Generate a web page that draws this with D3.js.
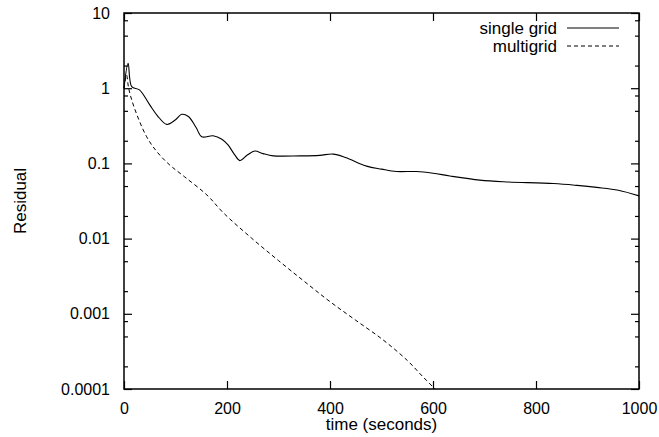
<!DOCTYPE html>
<html>
<head>
  <meta charset="UTF-8">
  <title>Residual vs time</title>
  <script src="https://d3js.org/d3.v7.min.js"></script>
  <style>
    body { margin: 0; background: #fff; }
    .chart text { font-family: "Liberation Sans", Arial, sans-serif; font-size: 17px; fill: #000; }
  </style>
</head>
<body>

<div class="chart"></div>

<script>

  // data: [time, residual]
  var singleGrid = [
    [0, 1.0], [8, 2.15], [15, 1.05], [30, 0.95], [50, 0.6], [65, 0.43],
    [83, 0.33], [100, 0.38], [112, 0.45], [125, 0.42], [140, 0.3], [151, 0.226],
    [173, 0.233], [190, 0.21], [202, 0.176], [215, 0.13], [225, 0.109], [240, 0.13],
    [254, 0.146], [270, 0.135], [290, 0.126], [342, 0.126], [380, 0.128], [406, 0.133],
    [430, 0.12], [471, 0.092], [500, 0.084], [529, 0.078], [568, 0.078], [600, 0.074],
    [633, 0.068], [691, 0.06], [737, 0.057], [834, 0.054], [880, 0.051], [918, 0.048],
    [960, 0.044], [1000, 0.037]
  ];
  var multiGrid = [
    [0, 1.0], [5, 1.5], [9, 1.0], [20, 0.55], [44, 0.226], [65, 0.14], [89, 0.095],
    [118, 0.066], [161, 0.038], [193, 0.022], [248, 0.0101], [300, 0.0051], [350, 0.0027],
    [400, 0.00145], [450, 0.00082], [503, 0.00045], [550, 0.00024], [581, 0.000144], [604, 0.0001]
  ];
  var seriesNames = ['single grid', 'multigrid'];
  var xTicks = [0, 200, 400, 600, 800, 1000];
  var yTicks = [0.0001, 0.001, 0.01, 0.1, 1, 10];
  var yTickLabels = ['0.0001', '0.001', '0.01', '0.1', '1', '10'];

  var margin = { top: 13, right: 20, bottom: 48, left: 124 };
  var W = 659, H = 437;
  var width = W - margin.left - margin.right;
  var height = H - margin.top - margin.bottom;

  var svg = d3.select('.chart').append('svg')
    .attr('width', W)
    .attr('height', H);
  var g = svg.append('g')
    .attr('transform', `translate(${margin.left}, ${margin.top})`);

  var x = d3.scaleLinear().domain([0, 1000]).range([0, width]);
  var y = d3.scaleLog().domain([0.0001, 10]).range([height, 0]);

  // minor ticks at 2, 5, 8 within each decade (as in the original)
  var minor = [];
  yTicks.slice(0, -1).forEach(d => [2, 5, 8].forEach(m => minor.push(d * m)));

  function tickStyle(sel) {
    sel.select('.domain').remove();
    sel.selectAll('line').attr('stroke', '#000').attr('stroke-width', 1.2);
  }

  // bottom / top ticks (inward)
  g.append('g').attr('transform', `translate(0, ${height})`)
    .call(d3.axisBottom(x).tickValues(xTicks).tickSize(-8).tickPadding(14).tickFormat(d3.format('d')))
    .call(tickStyle)
    .call(a => a.selectAll('text').attr('dy', '0.71em'));
  g.append('g')
    .call(d3.axisTop(x).tickValues(xTicks).tickSize(-8).tickFormat(''))
    .call(tickStyle);

  // left / right ticks
  g.append('g')
    .call(d3.axisLeft(y).tickValues(yTicks).tickSize(-8).tickPadding(14)
      .tickFormat((d, i) => yTickLabels[i]))
    .call(tickStyle);
  g.append('g')
    .call(d3.axisLeft(y).tickValues(minor).tickSize(-4).tickFormat(''))
    .call(tickStyle);
  g.append('g').attr('transform', `translate(${width}, 0)`)
    .call(d3.axisRight(y).tickValues(yTicks).tickSize(-8).tickFormat(''))
    .call(tickStyle);
  g.append('g').attr('transform', `translate(${width}, 0)`)
    .call(d3.axisRight(y).tickValues(minor).tickSize(-4).tickFormat(''))
    .call(tickStyle);

  g.selectAll('.tick text').style('font-size', '16px');

  // frame
  g.append('rect')
    .attr('width', width).attr('height', height)
    .attr('fill', 'none').attr('stroke', '#000').attr('stroke-width', 1.5);

  var line = d3.line()
    .x(d => x(d[0]))
    .y(d => y(d[1]))
    .curve(d3.curveCatmullRom.alpha(0.5));

  g.append('path').datum(singleGrid)
    .attr('d', line)
    .attr('fill', 'none').attr('stroke', '#000').attr('stroke-width', 1.1);
  g.append('path').datum(multiGrid)
    .attr('d', line)
    .attr('fill', 'none').attr('stroke', '#000').attr('stroke-width', 1)
    .attr('stroke-dasharray', '4,3');

  // legend
  var legend = g.append('g').attr('transform', `translate(${width - 20}, 0)`);
  seriesNames.forEach((name, i) => {
    var ly = 15 + i * 18;
    legend.append('text')
      .attr('x', -62).attr('y', ly).attr('dy', '0.35em')
      .attr('text-anchor', 'end').text(name);
    legend.append('line')
      .attr('x1', -52).attr('x2', 0).attr('y1', ly).attr('y2', ly)
      .attr('stroke', '#000').attr('stroke-width', 1)
      .attr('stroke-dasharray', i ? '4,3' : null);
  });

  // axis titles
  svg.append('text')
    .attr('x', margin.left + width / 2).attr('y', 430)
    .attr('text-anchor', 'middle').text('time (seconds)');
  svg.append('text')
    .attr('transform', `translate(26, ${margin.top + height / 2}) rotate(-90)`)
    .attr('text-anchor', 'middle').text('Residual');

</script>

</body>
</html>
